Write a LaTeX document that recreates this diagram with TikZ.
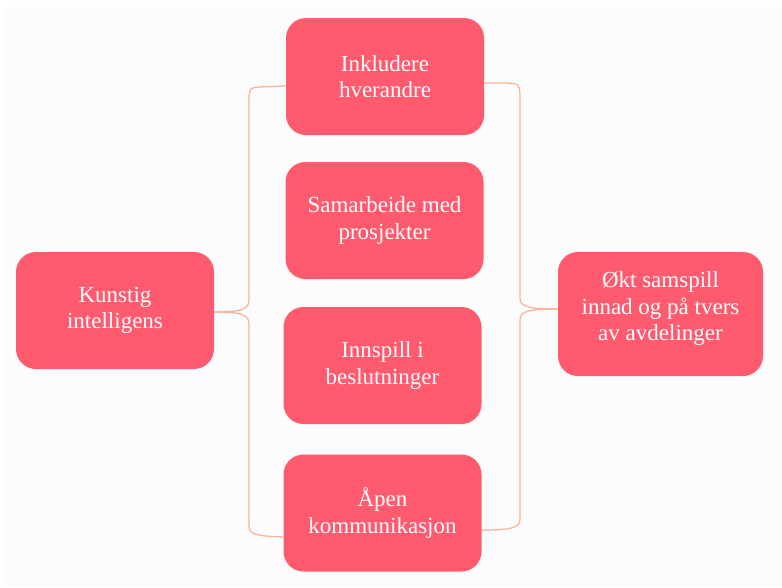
\documentclass[tikz,border=0pt]{standalone}
\usepackage{fontspec}
\setmainfont{Liberation Serif}
\definecolor{boxred}{HTML}{FF5A6E}
\definecolor{brace}{HTML}{F8B59E}
\definecolor{bg}{HTML}{FCFCFC}
\begin{document}
\begin{tikzpicture}[x=1pt,y=-1pt,
  card/.style={fill=boxred, rounded corners=20pt, minimum width=198pt, minimum height=117pt,
    text=white, align=center, font=\fontsize{23}{26.5}\selectfont, inner sep=4pt},
  bracket/.style={draw=brace, line width=1.3pt}]
\useasboundingbox (0,0) rectangle (782,587);
\fill[bg] (6,7) rectangle (782,587);
\node[card] (ki) at (115,310.5) {Kunstig\\intelligens};
\node[card] (t1) at (385,76.5) {Inkludere\\hverandre};
\node[card] (t2) at (384.5,220.5) {Samarbeide med\\prosjekter};
\node[card] (t3) at (382.5,365.5) {Innspill i\\beslutninger};
\node[card] (t4) at (382.5,513) {Åpen\\kommunikasjon};
\node[card, minimum width=205pt, minimum height=124pt] (res) at (660.5,314)
  {\raisebox{0pt}[\height][\dimexpr\depth+10pt\relax]{\begin{tabular}{@{}c@{}}Økt samspill\\innad og på tvers\\av avdelinger\end{tabular}}};
% left brace
\coordinate (lt) at ([yshift=-9.5]t1.west);
\coordinate (lb) at ([yshift=-24]t4.west);
\coordinate (lm) at ([yshift=-1.5]ki.east);
\draw[bracket] (lt) -- (259,87) .. controls (250,88) .. (249,97) -- (249,300)
  .. controls (249,310) and (240,312) .. (lm);
\draw[bracket] (lm) .. controls (240,312) and (249,314) .. (249,324) -- (249,526)
  .. controls (249,535) and (258,536) .. (lb);
% right brace
\coordinate (rt) at ([yshift=-6.5]t1.east);
\coordinate (rb) at ([yshift=-17]t4.east);
\coordinate (rm) at ([yshift=5]res.west);
\draw[bracket] (rt) -- (508,83) .. controls (519,84) .. (520,94) -- (520,298)
  .. controls (520,307) and (529,309) .. (rm);
\draw[bracket] (rm) .. controls (529,309) and (520,311) .. (520,320) -- (520,519)
  .. controls (520,528) and (511,530) .. (rb);
\end{tikzpicture}
\end{document}
